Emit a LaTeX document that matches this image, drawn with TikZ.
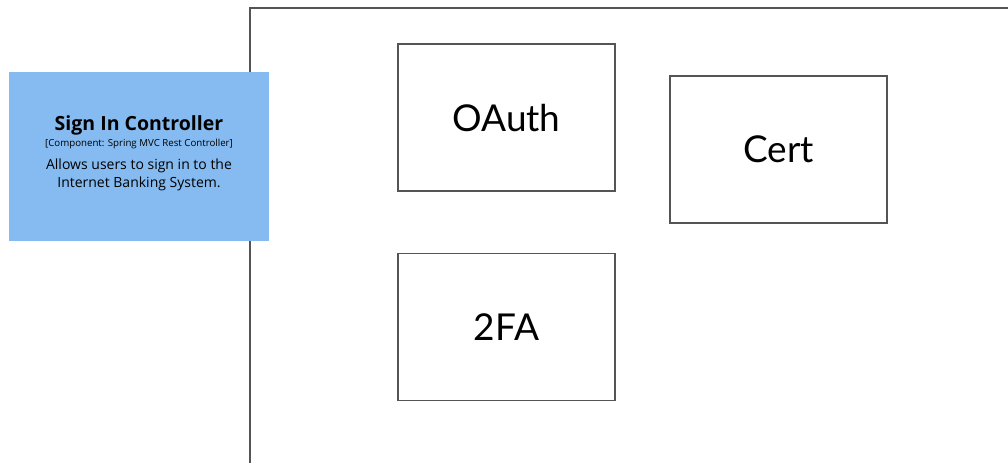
\documentclass[tikz,border=0pt]{standalone}
\usepackage{fontspec}
\setmainfont{Lato}
\newfontfamily\opensans{Open Sans}
\usetikzlibrary{positioning}
\definecolor{compblue}{HTML}{85BBF0}
\definecolor{framegray}{HTML}{555555}
\tikzstyle{auth} = [rectangle, draw=framegray, line width=1.6pt, fill=white, minimum width=217pt, minimum height=147pt, inner sep=0pt, text centered, text depth=0pt, font=\fontsize{37}{42}\selectfont]
\tikzstyle{comp} = [rectangle, fill=compblue, minimum width=260pt, minimum height=169pt, inner sep=0pt]
\tikzstyle{frame} = [draw=framegray, line width=1.6pt]

\begin{document}
\begin{tikzpicture}[x=1pt, y=-1pt]

\useasboundingbox (0,0) rectangle (1008,463);

\draw [frame] (1008,8) -| (250,463);

\node (oauth) [auth] at (506.5,117.5) {OAuth};
\node (cert) [auth] at (778.5,149.5) {Cert};
\node (twofa) [auth, below=61pt of oauth] {2FA};

\node (signin) [comp] at (139,156.5) {};
\node (title) [font=\opensans\bfseries\fontsize{19.5}{22}\selectfont] at (139,125) {Sign In Controller};
\node (kind) [font=\opensans\fontsize{9.7}{11}\selectfont] at (139,144) {[Component: Spring MVC Rest Controller]};
\node (desc) [font=\opensans\fontsize{14}{18}\selectfont, align=center] at (139,174.5) {Allows users to sign in to the\\Internet Banking System.};

\end{tikzpicture}
\end{document}
